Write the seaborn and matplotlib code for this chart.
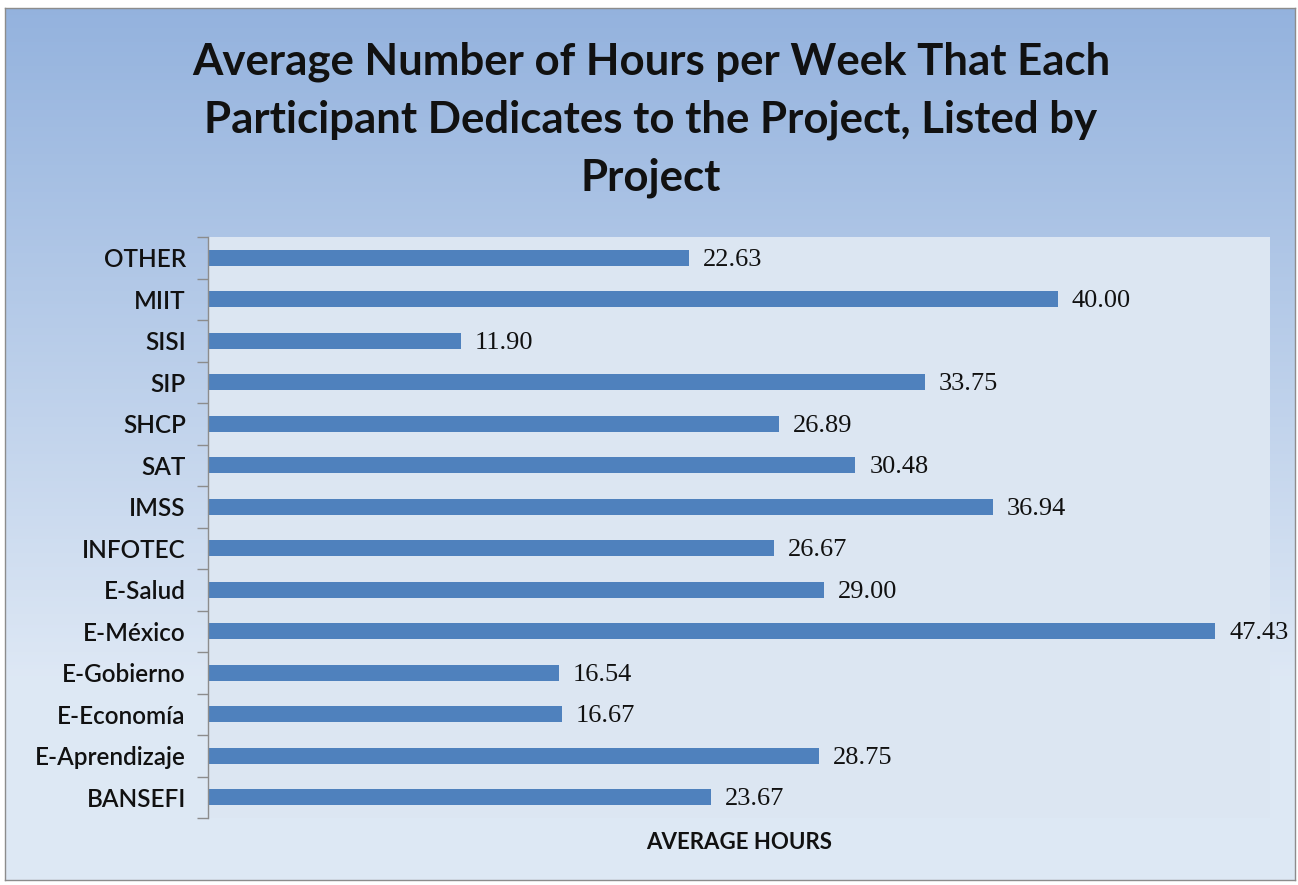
import numpy as np
import pandas as pd
import matplotlib
matplotlib.use("Agg")
import matplotlib.pyplot as plt
import seaborn as sns

projects = ['OTHER', 'MIIT', 'SISI', 'SIP', 'SHCP', 'SAT', 'IMSS', 'INFOTEC',
            'E-Salud', 'E-México', 'E-Gobierno', 'E-Economía', 'E-Aprendizaje', 'BANSEFI']
hours = [22.63, 40.00, 11.90, 33.75, 26.89, 30.48, 36.94, 26.67,
         29.00, 47.43, 16.54, 16.67, 28.75, 23.67]

df = pd.DataFrame({'Project': projects, 'Hours': hours})

sns.set_theme(style='white')
plt.rcParams['font.family'] = ['Lato', 'DejaVu Sans']

fig = plt.figure(figsize=(12.98, 8.85), dpi=100)
fig.patch.set_facecolor('white')

# chart area background: vertical gradient inside a thin gray frame
bg = fig.add_axes([5 / 1298, 1 - 880 / 885, 1290 / 1298, 872 / 885], zorder=0)
top = np.array([0.58, 0.70, 0.87])
bot = np.array([0.87, 0.91, 0.96])
t = np.linspace(0, 1, 256)[:, None]
grad = top + (bot - top) * np.clip(t * 1.3, 0, 1)
bg.imshow(grad[:, None, :].repeat(2, axis=1), aspect='auto', extent=[0, 1, 0, 1])
bg.set_xticks([])
bg.set_yticks([])
for s in bg.spines.values():
    s.set_color('#8c8c8c')
    s.set_linewidth(1)

# plot area
x0, x1, y0, y1 = 208, 1270, 237, 818
ax = fig.add_axes([x0 / 1298, 1 - y1 / 885, (x1 - x0) / 1298, (y1 - y0) / 885], zorder=1)
ax.set_facecolor('#dce6f2')

sns.barplot(data=df, y='Project', x='Hours', orient='h', color='#4f81bd',
            saturation=1, width=0.39, linewidth=0, ax=ax)

ax.set_xlim(0, 50)
ax.set_ylim(len(projects) - 0.5, -0.5)

for i, v in enumerate(hours):
    ax.text(v + 0.65, i + 0.05, f'{v:.2f}', va='center', ha='left', fontsize=19,
            family=['Liberation Serif', 'DejaVu Serif'], color='#111111')

ax.set_xticks([])
ax.set_ylabel('')
ax.set_xlabel('AVERAGE HOURS', fontsize=16, fontweight='bold', color='#111111', labelpad=10)
ax.tick_params(axis='y', which='major', length=0, labelsize=17.5, pad=16, colors='#111111')
for lab in ax.get_yticklabels():
    lab.set_fontweight('semibold')
ax.set_yticks(np.arange(-0.5, len(projects), 1), minor=True)
ax.tick_params(axis='y', which='minor', left=True, length=8, direction='out',
               color='#8c8c8c', width=1)
for name in ['top', 'right', 'bottom']:
    ax.spines[name].set_visible(False)
ax.spines['left'].set_color('#8c8c8c')
ax.spines['left'].set_linewidth(1)

fig.text(651 / 1298, 1 - 120 / 885,
         'Average Number of Hours per Week That Each\nParticipant Dedicates to the Project, Listed by\nProject',
         ha='center', va='center', fontsize=31.5, fontweight='bold', color='#111111',
         linespacing=1.53)

fig.savefig('out.png', dpi=100, facecolor=fig.get_facecolor())
